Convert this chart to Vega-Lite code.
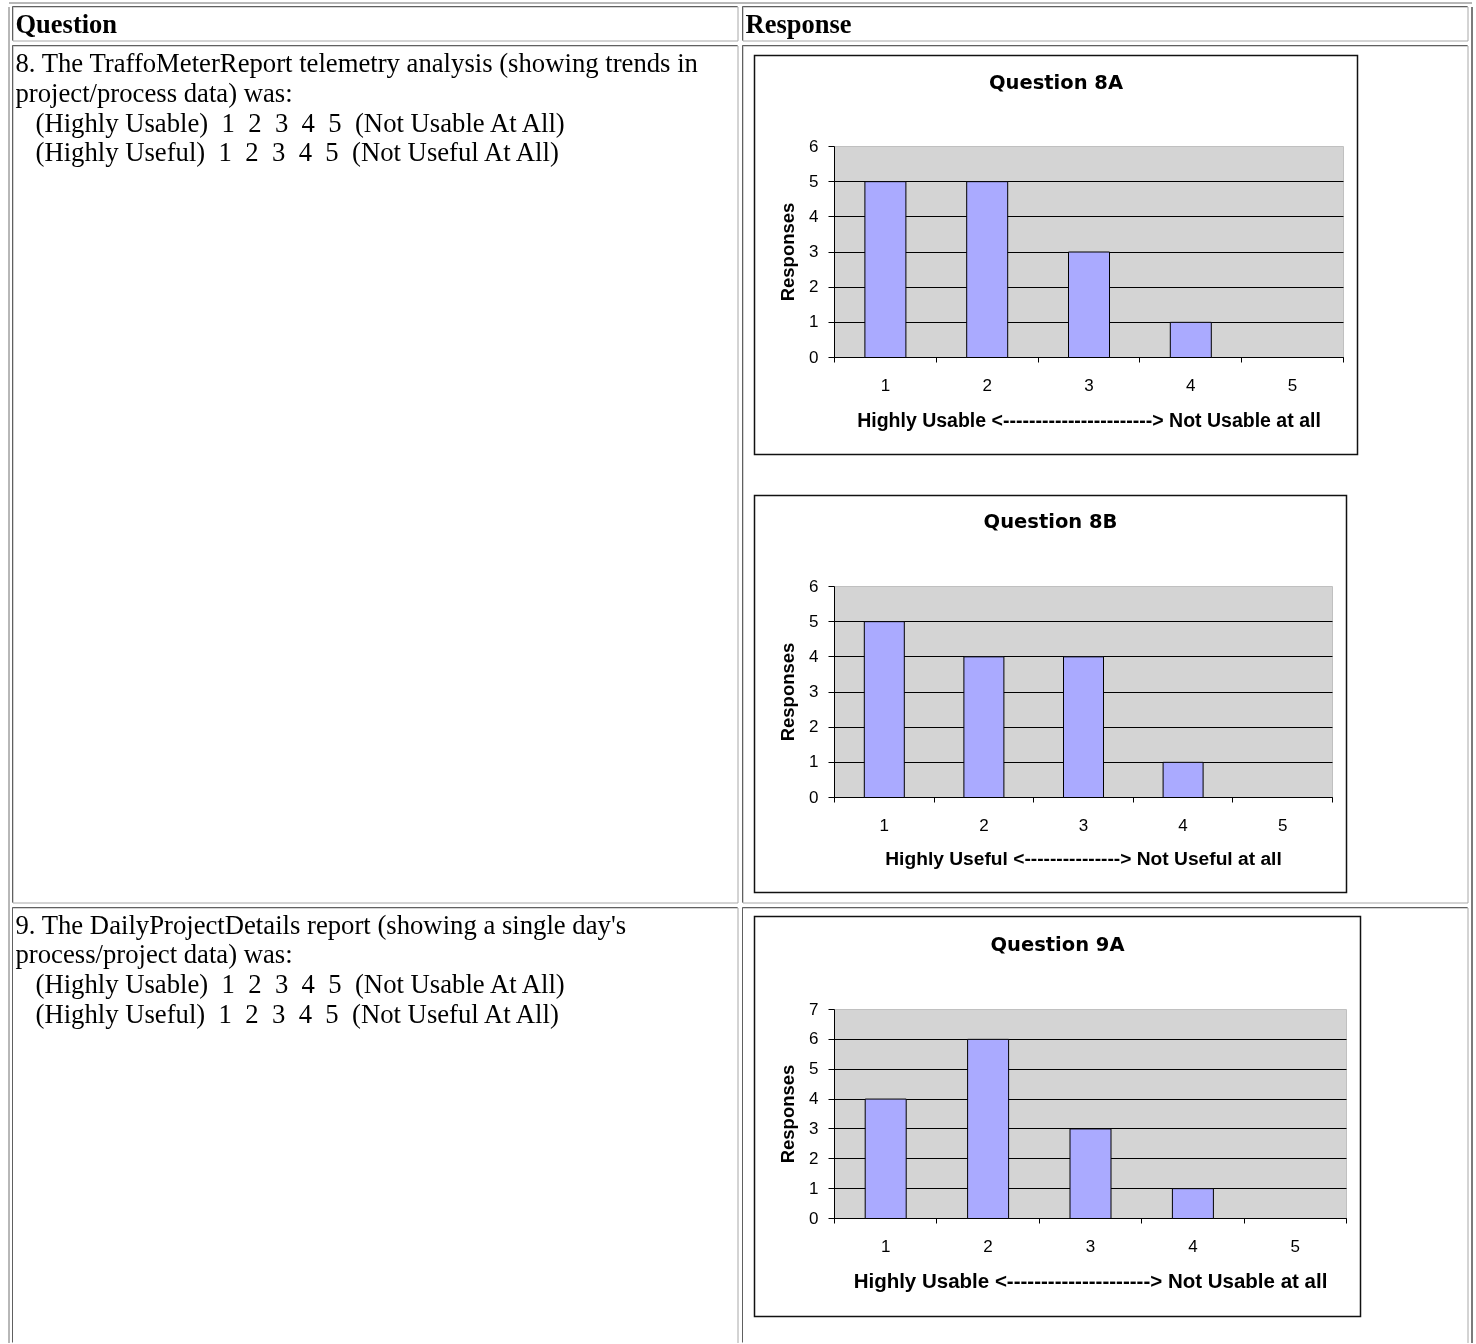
{
  "$schema": "https://vega.github.io/schema/vega-lite/v6.json",
  "background": "white",
  "padding": {"left": 7.5, "top": 1.5, "right": 3.5, "bottom": 0.5},
  "config": {"view": {"stroke": null}, "axis": {"translate": 0, "domainWidth": 1, "tickWidth": 1, "gridWidth": 1}},
  "spacing": 2,
  "vconcat": [
    {"width": 1463, "height": 0.01, "view": {"stroke": "#a0a0a0"}, "data": {"values": []}, "mark": "point"},
    {"spacing": 2, "hconcat": [
      {"width": 0.01, "height": 1336, "view": {"stroke": "#a0a0a0"}, "data": {"values": []}, "mark": "point"},
      {"spacing": 3, "vconcat": [
        {"spacing": 3, "hconcat": [
          {"width": 725, "height": 34, "view": {"stroke": "#a8a8a8"},
           "data": {"values": [{"t": "Question"}]},
           "layer": [
             {"mark": {"type": "rect", "filled": false, "stroke": "#606060", "strokeWidth": 1, "strokeDash": [725, 759, 34]},
              "encoding": {"x": {"datum": 0, "type": "quantitative", "scale": {"domain": [0, 1]}, "axis": null}, "x2": {"datum": 1}, "y": {"datum": 0, "type": "quantitative", "scale": {"domain": [0, 1]}, "axis": null}, "y2": {"datum": 1}}},
             {"mark": {"type": "text", "align": "left", "baseline": "alphabetic", "font": "Liberation Serif", "fontSize": 26.5, "fontWeight": "bold", "color": "#000", "dx": 3, "dy": 26.5},
              "encoding": {"text": {"field": "t"}, "x": {"datum": 0, "type": "quantitative", "axis": null}, "y": {"datum": 1, "type": "quantitative", "axis": null}}}
           ]},
          {"width": 725, "height": 34, "view": {"stroke": "#a8a8a8"},
           "data": {"values": [{"t": "Response"}]},
           "layer": [
             {"mark": {"type": "rect", "filled": false, "stroke": "#606060", "strokeWidth": 1, "strokeDash": [725, 759, 34]},
              "encoding": {"x": {"datum": 0, "type": "quantitative", "scale": {"domain": [0, 1]}, "axis": null}, "x2": {"datum": 1}, "y": {"datum": 0, "type": "quantitative", "scale": {"domain": [0, 1]}, "axis": null}, "y2": {"datum": 1}}},
             {"mark": {"type": "text", "align": "left", "baseline": "alphabetic", "font": "Liberation Serif", "fontSize": 26.5, "fontWeight": "bold", "color": "#000", "dx": 3, "dy": 26.5},
              "encoding": {"text": {"field": "t"}, "x": {"datum": 0, "type": "quantitative", "axis": null}, "y": {"datum": 1, "type": "quantitative", "axis": null}}}
           ]}
        ]},
        {"spacing": 3, "hconcat": [
          {"width": 725, "height": 857, "view": {"stroke": "#a8a8a8"},
           "data": {"values": [{"t": "8. The TraffoMeterReport telemetry analysis (showing trends in\nproject/process data) was:\n\u200b\u00a0\u00a0\u00a0(Highly Usable)\u00a0\u00a01\u00a0\u00a02\u00a0\u00a03\u00a0\u00a04\u00a0\u00a05\u00a0\u00a0(Not Usable At All)\n\u200b\u00a0\u00a0\u00a0(Highly Useful)\u00a0\u00a01\u00a0\u00a02\u00a0\u00a03\u00a0\u00a04\u00a0\u00a05\u00a0\u00a0(Not Useful At All)"}]},
           "layer": [
             {"mark": {"type": "rect", "filled": false, "stroke": "#606060", "strokeWidth": 1, "strokeDash": [725, 1582, 857]},
              "encoding": {"x": {"datum": 0, "type": "quantitative", "scale": {"domain": [0, 1]}, "axis": null}, "x2": {"datum": 1}, "y": {"datum": 0, "type": "quantitative", "scale": {"domain": [0, 1]}, "axis": null}, "y2": {"datum": 1}}},
             {"mark": {"type": "text", "align": "left", "baseline": "alphabetic", "font": "Liberation Serif", "fontSize": 26.7, "color": "#000", "dx": 3, "dy": 26.5, "lineBreak": "\n", "lineHeight": 29.8},
              "encoding": {"text": {"field": "t"}, "x": {"datum": 0, "type": "quantitative", "axis": null}, "y": {"datum": 1, "type": "quantitative", "axis": null}}}
           ]},
          {"width": 725, "height": 857, "view": {"stroke": "#a8a8a8"},
           "resolve": {"scale": {"x": "independent", "y": "independent"}, "axis": {"x": "independent", "y": "independent"}},
           "layer": [
             {"data": {"values": [{}]},
              "mark": {"type": "rect", "filled": false, "stroke": "#606060", "strokeWidth": 1, "strokeDash": [725, 1582, 857]},
              "encoding": {"x": {"datum": 0, "type": "quantitative", "scale": {"domain": [0, 1]}, "axis": null}, "x2": {"datum": 1}, "y": {"datum": 0, "type": "quantitative", "scale": {"domain": [0, 1]}, "axis": null}, "y2": {"datum": 1}}},
             {"data": {"values": [{}]},
              "mark": {"type": "rect", "filled": false, "stroke": "#111", "strokeWidth": 1.5},
              "encoding": {"x": {"datum": 0, "type": "quantitative", "scale": {"domain": [0, 1], "range": [12, 615]}, "axis": null}, "x2": {"datum": 1}, "y": {"datum": 0, "type": "quantitative", "scale": {"domain": [0, 1], "range": [409, 10]}, "axis": null}, "y2": {"datum": 1}}},
             {"data": {"values": [{"t": "Question 8A"}]},
              "mark": {"type": "text", "font": "DejaVu Sans", "fontSize": 19.5, "fontWeight": "bold", "color": "#000", "baseline": "middle"},
              "encoding": {"text": {"field": "t"}, "x": {"datum": 0.5, "type": "quantitative", "scale": {"domain": [0, 1], "range": [12, 615]}, "axis": null}, "y": {"datum": 0.932, "type": "quantitative", "scale": {"domain": [0, 1], "range": [409, 10]}, "axis": null}}},
             {"data": {"values": [{}]},
              "mark": {"type": "rect", "fill": "#d4d4d4", "stroke": "#c0c0c0", "strokeWidth": 1, "blend": "multiply"},
              "encoding": {"x": {"datum": 0.5, "type": "quantitative", "scale": {"domain": [0.5, 5.5], "range": [92, 601], "nice": false, "zero": false, "padding": 0}, "axis": null}, "x2": {"datum": 5.5}, "y": {"datum": 0, "type": "quantitative", "scale": {"domain": [0, 6], "range": [312, 101], "nice": false, "padding": 0}, "axis": null}, "y2": {"datum": 6}}},
             {"data": {"values": [{"r": 1, "n": 5}, {"r": 2, "n": 5}, {"r": 3, "n": 3}, {"r": 4, "n": 1}, {"r": 5, "n": 0}]},
              "mark": {"type": "bar", "fill": "#aaaaff", "stroke": "#000", "strokeWidth": 1, "width": 41},
              "encoding": {
                "x": {"field": "r", "type": "quantitative", "scale": {"domain": [0.5, 5.5], "range": [92, 601], "nice": false, "zero": false, "padding": 0}, "axis": {"orient": "bottom", "offset": -545, "values": [0.5, 1.5, 2.5, 3.5, 4.5, 5.5], "labelExpr": "datum.value < 5 ? format(datum.value + 0.5, 'd') : ''", "labelOffset": 50.9, "labelFlush": false, "labelOverlap": false, "tickSize": 5, "tickColor": "#000", "domainColor": "#000", "labelFont": "Liberation Sans", "labelFontSize": 17, "labelColor": "#000", "labelPadding": 15, "grid": false, "title": "Highly Usable <-----------------------> Not Usable at all", "titleFont": "Liberation Sans", "titleFontSize": 19.5, "titleFontWeight": "bold", "titleColor": "#000", "titlePadding": 18}},
                "y": {"field": "n", "type": "quantitative", "scale": {"domain": [0, 6], "range": [312, 101], "nice": false, "padding": 0}, "axis": {"orient": "left", "offset": -92, "values": [0, 1, 2, 3, 4, 5, 6], "format": "d", "tickSize": 6, "tickColor": "#000", "domainColor": "#000", "labelFont": "Liberation Sans", "labelFontSize": 17, "labelColor": "#000", "labelPadding": 10, "labelFlush": false, "grid": true, "gridColor": {"condition": {"test": "datum.value >= 6", "value": "transparent"}, "value": "#000"}, "title": "Responses", "titleFont": "Liberation Sans", "titleFontSize": 18.5, "titleFontWeight": "bold", "titleColor": "#000", "titlePadding": 11}}
              }},
             {"data": {"values": [{}]},
              "mark": {"type": "rect", "filled": false, "stroke": "#111", "strokeWidth": 1.5},
              "encoding": {"x": {"datum": 0, "type": "quantitative", "scale": {"domain": [0, 1], "range": [12, 604]}, "axis": null}, "x2": {"datum": 1}, "y": {"datum": 0, "type": "quantitative", "scale": {"domain": [0, 1], "range": [847, 450]}, "axis": null}, "y2": {"datum": 1}}},
             {"data": {"values": [{"t": "Question 8B"}]},
              "mark": {"type": "text", "font": "DejaVu Sans", "fontSize": 19.5, "fontWeight": "bold", "color": "#000", "baseline": "middle"},
              "encoding": {"text": {"field": "t"}, "x": {"datum": 0.5, "type": "quantitative", "scale": {"domain": [0, 1], "range": [12, 604]}, "axis": null}, "y": {"datum": 0.932, "type": "quantitative", "scale": {"domain": [0, 1], "range": [847, 450]}, "axis": null}}},
             {"data": {"values": [{}]},
              "mark": {"type": "rect", "fill": "#d4d4d4", "stroke": "#c0c0c0", "strokeWidth": 1, "blend": "multiply"},
              "encoding": {"x": {"datum": 0.5, "type": "quantitative", "scale": {"domain": [0.5, 5.5], "range": [92, 590], "nice": false, "zero": false, "padding": 0}, "axis": null}, "x2": {"datum": 5.5}, "y": {"datum": 0, "type": "quantitative", "scale": {"domain": [0, 6], "range": [752, 541], "nice": false, "padding": 0}, "axis": null}, "y2": {"datum": 6}}},
             {"data": {"values": [{"r": 1, "n": 5}, {"r": 2, "n": 4}, {"r": 3, "n": 4}, {"r": 4, "n": 1}, {"r": 5, "n": 0}]},
              "mark": {"type": "bar", "fill": "#aaaaff", "stroke": "#000", "strokeWidth": 1, "width": 40},
              "encoding": {
                "x": {"field": "r", "type": "quantitative", "scale": {"domain": [0.5, 5.5], "range": [92, 590], "nice": false, "zero": false, "padding": 0}, "axis": {"orient": "bottom", "offset": -105, "values": [0.5, 1.5, 2.5, 3.5, 4.5, 5.5], "labelExpr": "datum.value < 5 ? format(datum.value + 0.5, 'd') : ''", "labelOffset": 49.8, "labelFlush": false, "labelOverlap": false, "tickSize": 5, "tickColor": "#000", "domainColor": "#000", "labelFont": "Liberation Sans", "labelFontSize": 17, "labelColor": "#000", "labelPadding": 15, "grid": false, "title": "Highly Useful <---------------> Not Useful at all", "titleFont": "Liberation Sans", "titleFontSize": 19.2, "titleFontWeight": "bold", "titleColor": "#000", "titlePadding": 16}},
                "y": {"field": "n", "type": "quantitative", "scale": {"domain": [0, 6], "range": [752, 541], "nice": false, "padding": 0}, "axis": {"orient": "left", "offset": -92, "values": [0, 1, 2, 3, 4, 5, 6], "format": "d", "tickSize": 6, "tickColor": "#000", "domainColor": "#000", "labelFont": "Liberation Sans", "labelFontSize": 17, "labelColor": "#000", "labelPadding": 10, "labelFlush": false, "grid": true, "gridColor": {"condition": {"test": "datum.value >= 6", "value": "transparent"}, "value": "#000"}, "title": "Responses", "titleFont": "Liberation Sans", "titleFontSize": 18.5, "titleFontWeight": "bold", "titleColor": "#000", "titlePadding": 11}}
              }}
           ]}
        ]},
        {"spacing": 3, "hconcat": [
          {"width": 725, "height": 435, "view": {"stroke": "#a8a8a8", "strokeDash": [1160, 1160]},
           "data": {"values": [{"t": "9. The DailyProjectDetails report (showing a single day's\nprocess/project data) was:\n\u200b\u00a0\u00a0\u00a0(Highly Usable)\u00a0\u00a01\u00a0\u00a02\u00a0\u00a03\u00a0\u00a04\u00a0\u00a05\u00a0\u00a0(Not Usable At All)\n\u200b\u00a0\u00a0\u00a0(Highly Useful)\u00a0\u00a01\u00a0\u00a02\u00a0\u00a03\u00a0\u00a04\u00a0\u00a05\u00a0\u00a0(Not Useful At All)"}]},
           "layer": [
             {"mark": {"type": "rect", "filled": false, "stroke": "#606060", "strokeWidth": 1, "strokeDash": [725, 1160, 435]},
              "encoding": {"x": {"datum": 0, "type": "quantitative", "scale": {"domain": [0, 1]}, "axis": null}, "x2": {"datum": 1}, "y": {"datum": 0, "type": "quantitative", "scale": {"domain": [0, 1]}, "axis": null}, "y2": {"datum": 1}}},
             {"mark": {"type": "text", "align": "left", "baseline": "alphabetic", "font": "Liberation Serif", "fontSize": 26.7, "color": "#000", "dx": 3, "dy": 26, "lineBreak": "\n", "lineHeight": 29.8},
              "encoding": {"text": {"field": "t"}, "x": {"datum": 0, "type": "quantitative", "axis": null}, "y": {"datum": 1, "type": "quantitative", "axis": null}}}
           ]},
          {"width": 725, "height": 435, "view": {"stroke": "#a8a8a8", "strokeDash": [1160, 1160]},
           "resolve": {"scale": {"x": "independent", "y": "independent"}, "axis": {"x": "independent", "y": "independent"}},
           "layer": [
             {"data": {"values": [{}]},
              "mark": {"type": "rect", "filled": false, "stroke": "#606060", "strokeWidth": 1, "strokeDash": [725, 1160, 435]},
              "encoding": {"x": {"datum": 0, "type": "quantitative", "scale": {"domain": [0, 1]}, "axis": null}, "x2": {"datum": 1}, "y": {"datum": 0, "type": "quantitative", "scale": {"domain": [0, 1]}, "axis": null}, "y2": {"datum": 1}}},
             {"data": {"values": [{}]},
              "mark": {"type": "rect", "filled": false, "stroke": "#111", "strokeWidth": 1.5},
              "encoding": {"x": {"datum": 0, "type": "quantitative", "scale": {"domain": [0, 1], "range": [12, 618]}, "axis": null}, "x2": {"datum": 1}, "y": {"datum": 0, "type": "quantitative", "scale": {"domain": [0, 1], "range": [409, 9]}, "axis": null}, "y2": {"datum": 1}}},
             {"data": {"values": [{"t": "Question 9A"}]},
              "mark": {"type": "text", "font": "DejaVu Sans", "fontSize": 19.5, "fontWeight": "bold", "color": "#000", "baseline": "middle"},
              "encoding": {"text": {"field": "t"}, "x": {"datum": 0.5, "type": "quantitative", "scale": {"domain": [0, 1], "range": [12, 618]}, "axis": null}, "y": {"datum": 0.93, "type": "quantitative", "scale": {"domain": [0, 1], "range": [409, 9]}, "axis": null}}},
             {"data": {"values": [{}]},
              "mark": {"type": "rect", "fill": "#d4d4d4", "stroke": "#c0c0c0", "strokeWidth": 1, "blend": "multiply"},
              "encoding": {"x": {"datum": 0.5, "type": "quantitative", "scale": {"domain": [0.5, 5.5], "range": [92, 604], "nice": false, "zero": false, "padding": 0}, "axis": null}, "x2": {"datum": 5.5}, "y": {"datum": 0, "type": "quantitative", "scale": {"domain": [0, 7], "range": [311, 102], "nice": false, "padding": 0}, "axis": null}, "y2": {"datum": 7}}},
             {"data": {"values": [{"r": 1, "n": 4}, {"r": 2, "n": 6}, {"r": 3, "n": 3}, {"r": 4, "n": 1}, {"r": 5, "n": 0}]},
              "mark": {"type": "bar", "fill": "#aaaaff", "stroke": "#000", "strokeWidth": 1, "width": 41},
              "encoding": {
                "x": {"field": "r", "type": "quantitative", "scale": {"domain": [0.5, 5.5], "range": [92, 604], "nice": false, "zero": false, "padding": 0}, "axis": {"orient": "bottom", "offset": -124, "values": [0.5, 1.5, 2.5, 3.5, 4.5, 5.5], "labelExpr": "datum.value < 5 ? format(datum.value + 0.5, 'd') : ''", "labelOffset": 51.2, "labelFlush": false, "labelOverlap": false, "tickSize": 5, "tickColor": "#000", "domainColor": "#000", "labelFont": "Liberation Sans", "labelFontSize": 17, "labelColor": "#000", "labelPadding": 15, "grid": false, "title": "Highly Usable <---------------------> Not Usable at all", "titleFont": "Liberation Sans", "titleFontSize": 20.5, "titleFontWeight": "bold", "titleColor": "#000", "titlePadding": 17}},
                "y": {"field": "n", "type": "quantitative", "scale": {"domain": [0, 7], "range": [311, 102], "nice": false, "padding": 0}, "axis": {"orient": "left", "offset": -92, "values": [0, 1, 2, 3, 4, 5, 6, 7], "format": "d", "tickSize": 6, "tickColor": "#000", "domainColor": "#000", "labelFont": "Liberation Sans", "labelFontSize": 17, "labelColor": "#000", "labelPadding": 10, "labelFlush": false, "grid": true, "gridColor": {"condition": {"test": "datum.value >= 7", "value": "transparent"}, "value": "#000"}, "title": "Responses", "titleFont": "Liberation Sans", "titleFontSize": 18.5, "titleFontWeight": "bold", "titleColor": "#000", "titlePadding": 11}}
              }}
           ]}
        ]}
      ]},
      {"width": 0.01, "height": 1336, "view": {"stroke": "#505050"}, "data": {"values": []}, "mark": "point"}
    ]}
  ]
}
